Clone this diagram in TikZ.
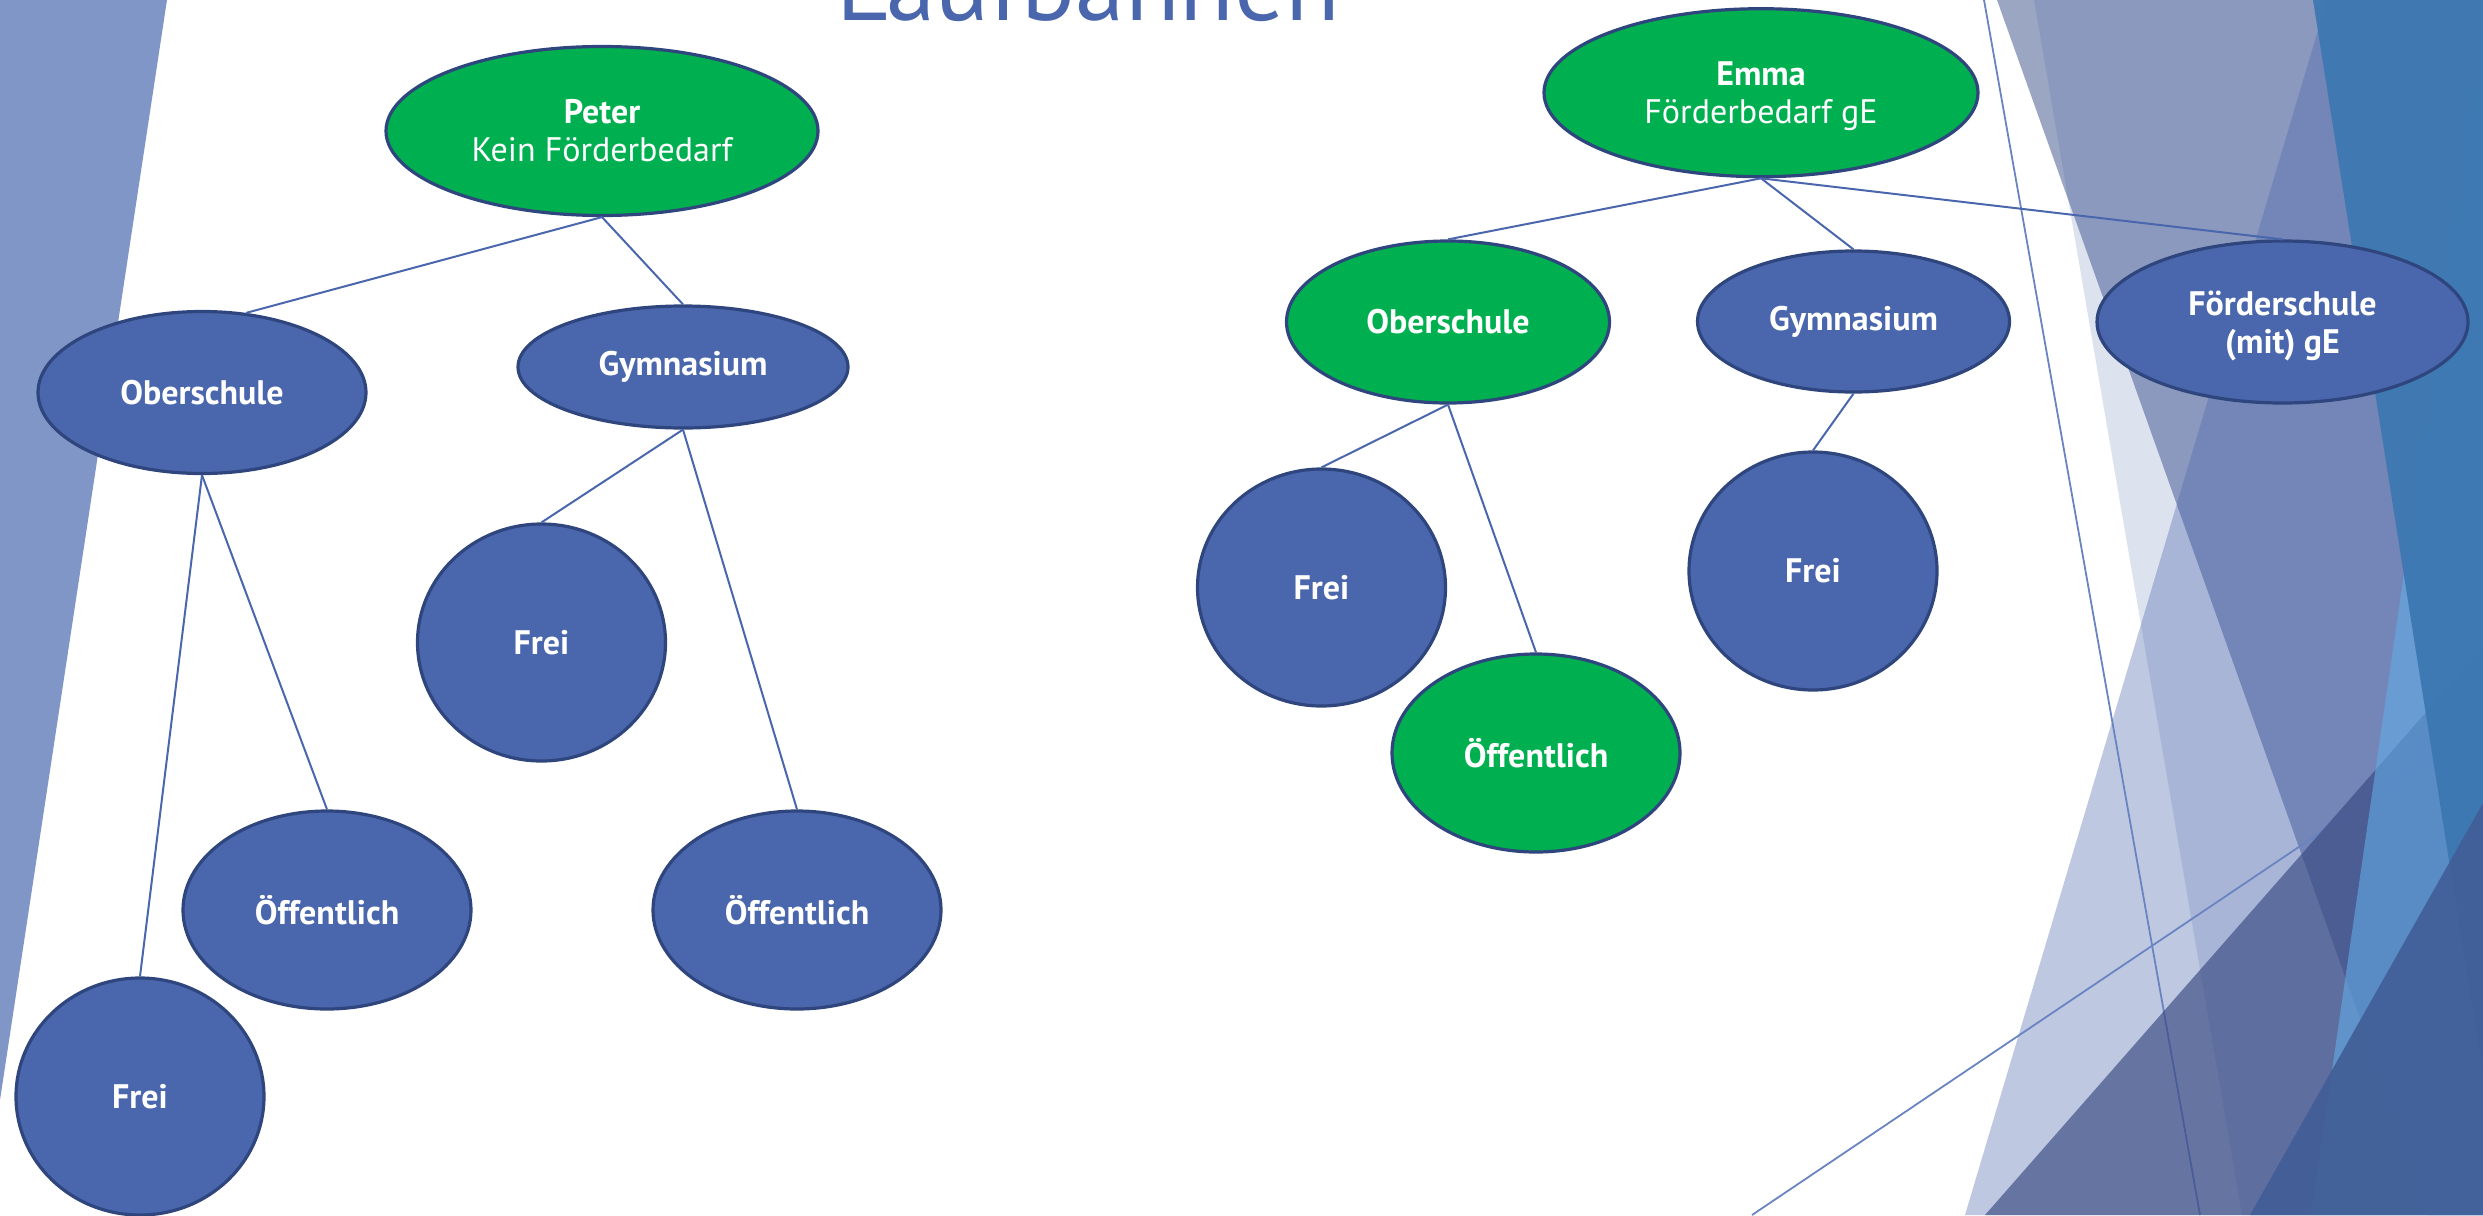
\documentclass[tikz,border=0pt]{standalone}
\usepackage{fontspec}
\setmainfont{PT Sans}
\usetikzlibrary{shapes.geometric}

\begin{document}
\begin{tikzpicture}[x = 0.5pt, y = -0.5pt]
\tikzstyle{nodeStyle} = [shape = ellipse, inner sep = 0pt, align = center, text = white, line width = 1.6pt, draw = {rgb,255:red,47; green,69; blue,125}, font = \fontsize{17}{19}\selectfont]
\tikzstyle{blueStyle} = [nodeStyle, fill = {rgb,255:red,74; green,102; blue,172}]
\tikzstyle{greenStyle} = [nodeStyle, fill = {rgb,255:red,0; green,176; blue,80}]
\tikzstyle{edgeStyle} = [draw = {rgb,255:red,74; green,102; blue,172}, line width = 1pt]
\tikzstyle{themeLine} = [draw = {rgb,255:red,106; green,132; blue,194}, line width = 0.9pt]
\tikzstyle{facetStyle} = [fill = {rgb,255:red,74; green,102; blue,172}]

\useasboundingbox (0,0) rectangle (2483,1215);
\clip (0,0) rectangle (2483,1215);

% facets left and right
\fill[fill = {rgb,255:red,128; green,150; blue,198}] (0,0) -- (167,0) -- (0,1100) -- cycle;
\fill[fill = {rgb,255:red,155; green,166; blue,195}] (1997,0) -- (2600,0) -- (2600,1215) -- (2430,1215) -- cycle;
\fill[facetStyle, fill opacity = 0.19] (2034,0) -- (2600,0) -- (2600,1215) -- (2242,1215) -- cycle;
\fill[facetStyle, fill opacity = 0.36] (2327,0) -- (2600,0) -- (2600,1215) -- (1965,1215) -- cycle;
\draw[themeLine] (1984,0) -- (2200,1215);
\draw[themeLine] (1752,1215) -- (2483,723);
\fill[fill = {rgb,255:red,56; green,72; blue,129}, fill opacity = 0.65] (2600,514) -- (2600,1215) -- (1985,1215) -- cycle;
\fill[fill = {rgb,255:red,98; green,170; blue,229}, fill opacity = 0.62] (2487,0) -- (2600,0) -- (2600,1215) -- (2311,1215) -- cycle;
\fill[fill = {rgb,255:red,60; green,119; blue,177}, fill opacity = 0.92] (2313,0) -- (2600,0) -- (2600,1215) -- (2505,1215) -- cycle;
\fill[fill = {rgb,255:red,66; green,94; blue,151}, fill opacity = 0.92] (2600,596) -- (2600,1215) -- (2250,1215) -- cycle;

\node[anchor = base, text = {rgb,255:red,74; green,102; blue,172}, font = \fontsize{50}{52}\selectfont] (title) at (1088,20.7) {Laufbahnen};

% Peter
\node[greenStyle, minimum width = 216pt, minimum height = 84.5pt] (peter) at (602,131) {\textbf{Peter}\\Kein Förderbedarf};
\node[blueStyle, minimum width = 164pt, minimum height = 81pt] (obL) at (202,392.5) {\textbf{Oberschule}};
\node[blueStyle, minimum width = 165pt, minimum height = 61pt] (gymL) at (683,367) {\textbf{Gymnasium}};
\node[blueStyle, minimum width = 124pt, minimum height = 118.5pt] (freiL) at (541.5,642.5) {\textbf{Frei}};
\node[blueStyle, minimum width = 144pt, minimum height = 99pt] (oeffLa) at (327,910) {\textbf{Öffentlich}};
\node[blueStyle, minimum width = 144pt, minimum height = 99pt] (oeffLb) at (797,910) {\textbf{Öffentlich}};
\node[blueStyle, minimum width = 124pt, minimum height = 118.5pt] (freiLL) at (140,1096.5) {\textbf{Frei}};

% Emma
\node[greenStyle, minimum width = 217pt, minimum height = 84pt] (emma) at (1761,92.7) {\textbf{Emma}\\\smash{Förderbedarf gE}};
\node[greenStyle, minimum width = 161.5pt, minimum height = 81pt] (obR) at (1448,322) {\textbf{Oberschule}};
\node[blueStyle, minimum width = 156pt, minimum height = 70.5pt] (gymR) at (1853.5,321.5) {\textbf{Gymnasium}};
\node[blueStyle, minimum width = 185.5pt, minimum height = 81pt] (foerd) at (2282.5,322) {\textbf{Förderschule}\\\smash{\textbf{(mit) gE}}};
\node[blueStyle, minimum width = 124pt, minimum height = 118.5pt] (freiRa) at (1321.5,587.5) {\textbf{Frei}};
\node[greenStyle, minimum width = 144pt, minimum height = 99pt] (oeffR) at (1536,753) {\textbf{Öffentlich}};
\node[blueStyle, minimum width = 124pt, minimum height = 119pt] (freiRb) at (1813,571) {\textbf{Frei}};

\draw[edgeStyle] (peter.south) -- (obL.61);
\draw[edgeStyle] (peter.south) -- (gymL.north);
\draw[edgeStyle] (obL.south) -- (freiLL.north);
\draw[edgeStyle] (obL.south) -- (oeffLa.north);
\draw[edgeStyle] (gymL.south) -- (freiL.north);
\draw[edgeStyle] (gymL.south) -- (oeffLb.north);
\draw[edgeStyle] (emma.south) -- (obR.north);
\draw[edgeStyle] (emma.south) -- (gymR.north);
\draw[edgeStyle] (emma.south) -- (foerd.north);
\draw[edgeStyle] (obR.south) -- (freiRa.north);
\draw[edgeStyle] (obR.south) -- (oeffR.north);
\draw[edgeStyle] (gymR.south) -- (freiRb.north);
\end{tikzpicture}
\end{document}
